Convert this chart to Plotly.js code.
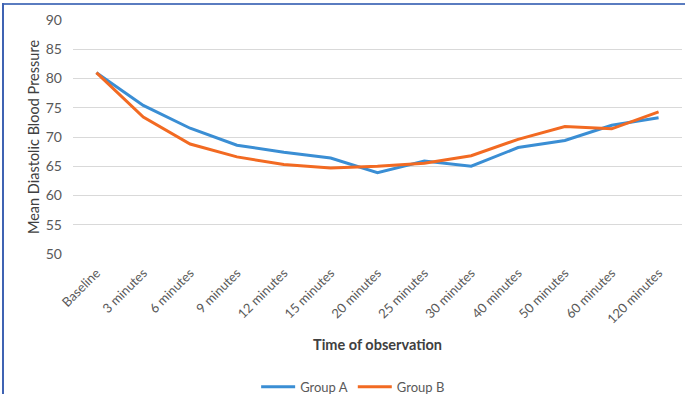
<!DOCTYPE html>
<html>
<head>
<meta charset="utf-8">
<script src="https://cdn.plot.ly/plotly-3.0.1.min.js"></script>
<style>
  html, body { margin: 0; padding: 0; background: #fff; }
  #wrap { position: relative; width: 685px; height: 394px; }
  #chart { width: 685px; height: 394px; }
  .frame-top { position: absolute; left: 2px; top: 3px; width: 683px; height: 2px; background: #5a7cc0; }
  .frame-left { position: absolute; left: 2px; top: 3px; width: 2px; height: 391px; background: #3f63b3; }
</style>
</head>
<body>
<div id="wrap">
  <div id="chart"></div>
  <div class="frame-top"></div>
  <div class="frame-left"></div>
</div>
<script>
// Observation time points
const timepoints = ["Baseline", "3 minutes", "6 minutes", "9 minutes", "12 minutes", "15 minutes",
  "20 minutes", "25 minutes", "30 minutes", "40 minutes", "50 minutes", "60 minutes", "120 minutes"];

// Mean diastolic blood pressure per group
const groupA = [81.0, 75.4, 71.5, 68.6, 67.4, 66.4, 63.9, 65.9, 65.0, 68.2, 69.4, 72.0, 73.3];
const groupB = [81.0, 73.4, 68.8, 66.6, 65.3, 64.7, 65.0, 65.5, 66.8, 69.6, 71.8, 71.4, 74.3];

const yTicks = [50, 55, 60, 65, 70, 75, 80, 85, 90];

const FONT = "Lato, 'Open Sans', sans-serif";

const traces = [
  { name: "Group A", x: timepoints, y: groupA, type: "scatter", mode: "lines",
    line: { color: "#3a8ed4", width: 3 } },
  { name: "Group B", x: timepoints, y: groupB, type: "scatter", mode: "lines",
    line: { color: "#f26a22", width: 3 } }
];

const layout = {
  width: 685, height: 394,
  margin: { l: 73, r: 3, t: 20, b: 140, autoexpand: false },
  paper_bgcolor: "#fff", plot_bgcolor: "#fff",
  font: { family: FONT, color: "#595959" },
  showlegend: true,
  legend: {
    orientation: "h", x: 0.46, xanchor: "center", y: -0.567, yanchor: "middle",
    font: { family: FONT, size: 13, color: "#595959" },
    itemwidth: 34, tracegroupgap: 0
  },
  xaxis: {
    type: "category",
    automargin: false,
    tickangle: -45,
    tickfont: { family: FONT, size: 13, color: "#595959" },
    showgrid: false, zeroline: false, showline: false,
    ticks: "", ticklabelstandoff: 8,
    range: [-0.5, timepoints.length - 0.5],
    title: { text: "<b>Time of observation</b>", font: { family: FONT, size: 14.5, color: "#404040" }, standoff: 14 }
  },
  yaxis: {
    automargin: false,
    range: [50, 90],
    tickvals: yTicks,
    tickfont: { family: FONT, size: 14, color: "#595959" },
    showgrid: true, gridcolor: "#d9d9d9", gridwidth: 1,
    zeroline: false, showline: false, ticks: "",
    ticklabelstandoff: 10,
    title: { text: "Mean Diastolic Blood Pressure", font: { family: FONT, size: 14.5, color: "#404040" }, standoff: 2 }
  }
};

Plotly.newPlot("chart", traces, layout, { displayModeBar: false, staticPlot: true });
</script>
</body>
</html>
